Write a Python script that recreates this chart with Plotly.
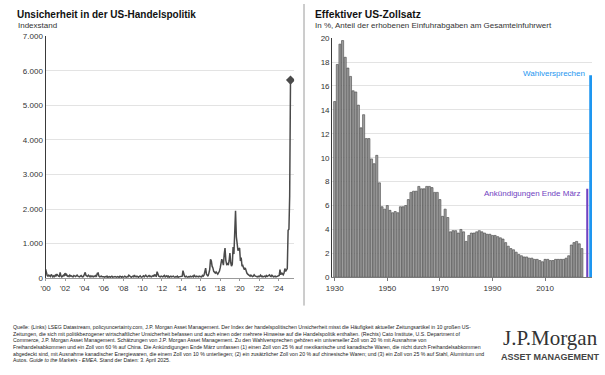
import plotly.graph_objects as go
import pandas as pd

# ---------------- Data ----------------
# Left: US trade policy uncertainty index (monthly, Jan 2000 - Apr 2025)
tpu_2000_2025 = [
    260, 120, 80, 60, 90, 70, 50, 110, 60, 40, 70, 50,      # 2000
    90, 60, 120, 80, 60, 50, 170, 70, 40, 60, 90, 60,       # 2001
    150, 80, 110, 60, 70, 50, 90, 60, 70, 50, 40, 80,       # 2002
    60, 50, 70, 90, 60, 50, 40, 60, 80, 50, 40, 60,         # 2003
    100, 170, 80, 60, 50, 90, 60, 40, 70, 50, 60, 40,       # 2004
    60, 50, 80, 60, 140, 150, 60, 40, 50, 60, 40, 50,       # 2005
    40, 30, 50, 40, 60, 30, 40, 50, 30, 40, 60, 30,         # 2006
    40, 30, 50, 40, 30, 50, 40, 30, 60, 40, 30, 50,         # 2007
    30, 40, 60, 40, 30, 50, 40, 90, 60, 40, 30, 50,         # 2008
    60, 40, 90, 50, 40, 60, 40, 30, 50, 70, 40, 30,         # 2009
    50, 70, 40, 60, 90, 50, 40, 60, 80, 50, 60, 40,         # 2010
    60, 80, 50, 110, 70, 60, 190, 80, 60, 50, 40, 60,       # 2011
    50, 40, 60, 80, 40, 50, 70, 40, 60, 30, 50, 60,         # 2012
    40, 50, 60, 40, 30, 50, 40, 60, 30, 40, 50, 40,         # 2013
    50, 60, 220, 80, 50, 40, 60, 40, 30, 50, 40, 60,        # 2014
    40, 50, 60, 40, 100, 50, 40, 60, 50, 40, 60, 50,        # 2015
    60, 40, 80, 60, 90, 170, 290, 120, 80, 60, 150, 250,    # 2016
    545, 500, 350, 300, 200, 160, 150, 180, 130, 120, 160, 200,  # 2017
    300, 420, 550, 480, 380, 700, 870, 520, 400, 420, 380, 500,  # 2018
    730, 450, 350, 400, 900, 700, 1390, 1950, 1200, 870, 800, 850,  # 2019
    870, 500, 600, 350, 370, 300, 250, 300, 200, 150, 120, 100,  # 2020
    80, 60, 90, 70, 50, 60, 100, 70, 60, 50, 40, 60,        # 2021
    40, 60, 90, 50, 60, 40, 50, 60, 40, 80, 50, 60,         # 2022
    70, 100, 60, 50, 90, 60, 40, 50, 60, 40, 50, 70,        # 2023
    60, 80, 250, 100, 160, 120, 100, 150, 280, 200, 250, 280,  # 2024
    1390, 1420, 2380, 5730,                                  # 2025
]
tpu_dates = pd.date_range("2000-01-01", periods=len(tpu_2000_2025), freq="MS")
left_tick_years = list(range(2000, 2025, 2))
left_tick_labels = ["'" + str(y)[2:] for y in left_tick_years]
left_y_ticks = [0, 1000, 2000, 3000, 4000, 5000, 6000, 7000]

# Right: effective US tariff rate, 1930-2024 (%)
tariff_years = list(range(1930, 2025))
tariff_rate = [
    14.7, 17.8, 19.5, 19.8, 18.4, 17.5, 16.8, 15.6, 15.5, 14.4,   # 1930s
    12.5, 13.6, 11.6, 11.6, 9.9, 9.5, 10.2, 7.9, 5.9, 5.7,         # 1940s
    6.0, 5.6, 5.4, 5.5, 5.4, 5.9, 5.9, 6.0, 6.5, 7.1,              # 1950s
    7.2, 7.2, 7.6, 7.4, 7.4, 7.6, 7.6, 7.5, 7.1, 7.1,              # 1960s
    6.5, 5.1, 5.7, 5.0, 3.8, 3.9, 3.9, 3.7, 4.0, 3.8,              # 1970s
    3.0, 3.5, 3.7, 3.7, 3.8, 3.9, 3.8, 3.7, 3.6, 3.6,              # 1980s
    3.5, 3.5, 3.4, 3.3, 3.2, 2.9, 2.6, 2.4, 2.3, 2.1,              # 1990s
    1.9, 1.8, 1.7, 1.7, 1.6, 1.6, 1.5, 1.5, 1.4, 1.3,              # 2000s
    1.5, 1.5, 1.4, 1.4, 1.5, 1.5, 1.5, 1.5, 1.6, 1.8,              # 2010s
    2.7, 2.9, 3.0, 2.8, 2.4,                                       # 2020s
]
scenario_names = ["Ankündigungen Ende März", "Wahlversprechen"]
scenario_x = [2026.1, 2027.5]
scenario_values = [7.4, 16.9]
scenario_colors = ["#6f42c1", "#1e96f0"]
right_tick_years = [1930, 1950, 1970, 1990, 2010]
right_y_ticks = list(range(0, 21, 2))

footer_lines = [
    "Quelle: (Links) LSEG Datastream, policyuncertainty.com, J.P. Morgan Asset Management. Der Index der handelspolitischen Unsicherheit misst die Häufigkeit aktueller Zeitungsartikel in 10 großen US-",
    "Zeitungen, die sich mit politikbezogener wirtschaftlicher Unsicherheit befassen und auch einen oder mehrere Hinweise auf die Handelspolitik enthalten. (Rechts) Cato Institute, U.S. Department of",
    "Commerce, J.P. Morgan Asset Management. Schätzungen von J.P. Morgan Asset Management. Zu den Wahlversprechen gehören ein universeller Zoll von 20 % mit Ausnahme von",
    "Freihandelsabkommen und ein Zoll von 60 % auf China. Die Ankündigungen Ende März umfassen (1) einen Zoll von 25 % auf mexikanische und kanadische Waren, die nicht durch Freihandelsabkommen",
    "abgedeckt sind, mit Ausnahme kanadischer Energiewaren, die einem Zoll von 10 % unterliegen; (2) ein zusätzlicher Zoll von 20 % auf chinesische Waren; und (3) ein Zoll von 25 % auf Stahl, Aluminium und",
    "Autos. <i>Guide to the Markets - EMEA</i>. Stand der Daten: 3. April 2025.",
]

# ---------------- Figure ----------------
W, H = 605, 375
def px(x):
    return x / W
def py(y):
    return 1 - y / H

FONT = "Liberation Sans, Arial, sans-serif"
TXT = "#333333"

fig = go.Figure()

fig.add_trace(go.Scatter(
    x=tpu_dates, y=tpu_2000_2025, mode="lines",
    line=dict(color="#4a4a4a", width=1.5),
    xaxis="x", yaxis="y", showlegend=False, hoverinfo="skip",
))
fig.add_trace(go.Scatter(
    x=[tpu_dates[-1]], y=[tpu_2000_2025[-1]], mode="markers",
    marker=dict(symbol="diamond", size=7, color="#4a4a4a"),
    xaxis="x", yaxis="y", showlegend=False, hoverinfo="skip",
))

fig.add_trace(go.Bar(
    x=tariff_years, y=tariff_rate, width=0.8,
    marker=dict(color="#a0a0a0", line=dict(color="#444444", width=0.6)),
    xaxis="x2", yaxis="y2", showlegend=False, hoverinfo="skip",
))
for name, xv, val, col in zip(scenario_names, scenario_x, scenario_values, scenario_colors):
    fig.add_trace(go.Bar(
        x=[xv], y=[val], width=0.7, name=name,
        marker=dict(color=col, line=dict(width=0)),
        xaxis="x2", yaxis="y2", showlegend=False, hoverinfo="skip",
    ))

axis_common = dict(
    showgrid=False, zeroline=False,
    tickfont=dict(family=FONT, size=8, color=TXT),
)

fig.update_layout(
    width=W, height=H,
    margin=dict(l=0, r=0, t=0, b=0),
    paper_bgcolor="white", plot_bgcolor="white",
    separators=",.",
    barmode="overlay",
    xaxis=dict(
        domain=[px(40), px(291)],
        type="date",
        range=["2000-01-01", "2025-08-15"],
        tickvals=[f"{y}-01-01" for y in left_tick_years],
        ticktext=left_tick_labels,
        showline=True, linecolor="#9a9a9a", linewidth=1,
        ticks="outside", ticklen=2, tickcolor="#9a9a9a",
        anchor="y",
        **axis_common,
    ),
    yaxis=dict(
        domain=[py(281), py(33)],
        range=[0, 7000],
        tickvals=left_y_ticks,
        tickformat=",d",
        showgrid=True, gridcolor="#e3e3e3", gridwidth=1,
        zeroline=False,
        showline=True, linecolor="#3a3a3a", linewidth=1.2,
        ticks="", anchor="x",
        tickfont=dict(family=FONT, size=8, color=TXT),
    ),
    xaxis2=dict(
        domain=[px(329.5), px(592)],
        range=[1929.06, 2027.9],
        tickvals=right_tick_years,
        showline=True, linecolor="#7a7a7a", linewidth=1,
        ticks="outside", ticklen=3, tickcolor="#7a7a7a",
        anchor="y2",
        **axis_common,
    ),
    yaxis2=dict(
        domain=[py(280), py(35)],
        range=[0, 20],
        tickvals=right_y_ticks,
        showgrid=True, gridcolor="#e3e3e3", gridwidth=1,
        zeroline=False,
        showline=True, linecolor="#3a3a3a", linewidth=1.2,
        ticks="", anchor="x2",
        tickfont=dict(family=FONT, size=8, color=TXT),
    ),
)

annotations = []
# Titles
annotations.append(dict(text="<b>Unsicherheit in der US-Handelspolitik</b>", x=px(9), y=py(11),
                        xref="paper", yref="paper", xanchor="left", yanchor="middle",
                        showarrow=False, font=dict(family=FONT, size=10, color="#111")))
annotations.append(dict(text="Indexstand", x=px(10), y=py(22),
                        xref="paper", yref="paper", xanchor="left", yanchor="middle",
                        showarrow=False, font=dict(family=FONT, size=8, color=TXT)))
annotations.append(dict(text="<b>Effektiver US-Zollsatz</b>", x=px(310), y=py(11),
                        xref="paper", yref="paper", xanchor="left", yanchor="middle",
                        showarrow=False, font=dict(family=FONT, size=10.3, color="#111")))
annotations.append(dict(text="In %, Anteil der erhobenen Einfuhrabgaben am Gesamteinfuhrwert",
                        x=px(310), y=py(22.5),
                        xref="paper", yref="paper", xanchor="left", yanchor="middle",
                        showarrow=False, font=dict(family=FONT, size=8, color=TXT)))

# Scenario labels
label_yshift = [-5, 2]
for name, xv, val, col, sh in zip(scenario_names, scenario_x, scenario_values, scenario_colors, label_yshift):
    annotations.append(dict(text=name, x=xv, y=val, xref="x2", yref="y2",
                            xanchor="right", yanchor="middle", xshift=-4, yshift=sh,
                            showarrow=False, font=dict(family=FONT, size=8, color=col)))

# Footer
for i, line in enumerate(footer_lines):
    annotations.append(dict(text=line, x=px(5), y=py(331 + i * 6.8),
                            xref="paper", yref="paper", xanchor="left", yanchor="middle",
                            showarrow=False, font=dict(family=FONT, size=5.2, color="#222")))

# Logo
annotations.append(dict(text="J.P.Morgan", x=px(550), y=py(342),
                        xref="paper", yref="paper", xanchor="center", yanchor="middle",
                        showarrow=False, font=dict(family="Liberation Serif, serif", size=21, color="#333")))
annotations.append(dict(text="<b>ASSET MANAGEMENT</b>", x=px(550), y=py(362),
                        xref="paper", yref="paper", xanchor="center", yanchor="middle",
                        showarrow=False, font=dict(family=FONT, size=9, color="#444")))

fig.update_layout(annotations=annotations)

# Divider between panels
fig.add_shape(type="line", xref="paper", yref="paper",
              x0=px(301), x1=px(301), y0=py(0), y1=py(309),
              line=dict(color="#9a9a9a", width=1))

fig.write_html(
    "out.html",
    config={"displayModeBar": False},
    post_script="document.body.style.margin='0px';document.body.style.overflow='hidden';",
)
